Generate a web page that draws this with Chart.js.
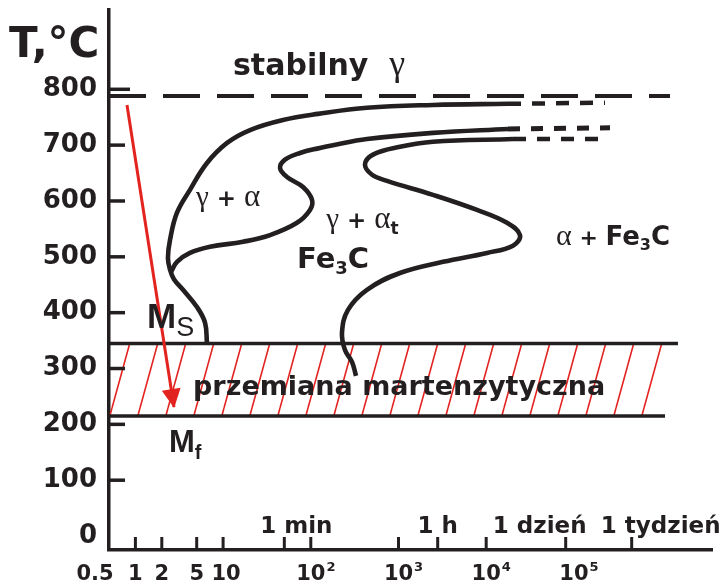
<!DOCTYPE html>
<html><head><meta charset="utf-8">
<script src="https://cdn.jsdelivr.net/npm/chart.js@4.4.1/dist/chart.umd.min.js"></script>
<style>html,body{margin:0;padding:0;background:#fff}canvas{display:block}</style>
</head><body>
<canvas id="c" width="728" height="587"></canvas>
<script>
// ---------- data (time in s, temperature in °C) ----------
const yTicks = [0, 100, 200, 300, 400, 500, 600, 700, 800];
const xNumTicks = [0.5, 1, 2, 5, 10, 100, 1000, 10000, 100000];
const xNumLabels = ['0.5', '1', '2', '5', '10', '10|2', '10|3', '10|4', '10|5'];
const xNumMarks = [1, 2, 5, 10, 100, 1000, 10000];
const timeTickSeconds = [49.9, 2799, 80640, 456100];
const timeTickLabels = ['1 min', '1 h', '1 dzień', '1 tydzień'];

const curveOuter = [[6.55,345],[6.22,382],[5.04,410],[3.49,441],[2.75,460],[2.48,477],[2.35,498],[2.48,530],[2.98,579],[4.19,620],[6.55,668],[11.1,704],[20.3,727],[48.2,745],[121,756],[437,767],[2474,772],[17730,774]];
const curveOuterDash = [[17730,774],[226200,776]];
const curveMiddle = [[2.55,473],[2.98,491],[4.19,507],[7.09,518],[16.9,527],[34.3,539],[69.6,561],[97.9,584],[103.2,602],[81.5,625],[53.5,643],[44.6,659],[50.8,674],[75.3,686],[127,695],[179,700],[437,711],[2474,722],[17730,729]];
const curveMiddleDash = [[17730,729],[258000,731]];
const curveInner = [[327.7,287],[294.9,312],[245.4,333],[226.8,364],[265.6,405],[437,441],[1040,471],[3217,491],[10210,507],[20210,520],[24290,539],[17270,561],[7857,584],[2474,611],[739.6,636],[499,647],[415,665],[512,683],[1040,697],[2474,706],[20210,711]];
const curveInnerDash = [[20210,711],[232300,711]];
const a1Line = [[0.5,788],[1.247e6,788]];
const msLine = [[0.5,345],[1.538e6,345]];
const mfLine = [[0.5,215],[1.094e6,215]];
const martensiteBand = [[0.5,345],[1.459e6,345],[8.41e5,215],[0.5,215],[0.5,345]];
const coolingPath = [[0.802,772],[2.754,231]];

// ---------- styles ----------
const ink = '#231f20';
const red = '#e3231f';
const SANS = 'DejaVu Sans';
const SERIF = 'Liberation Serif';
const ARIAL = 'Liberation Sans';

function makeHatch() {
  const W = 28, H = 102;
  const c = document.createElement('canvas');
  c.width = W; c.height = H;
  const g = c.getContext('2d');
  g.strokeStyle = red; g.lineWidth = 1.6;
  for (const k of [-1, 0, 1]) {
    g.beginPath(); g.moveTo(k * W, H); g.lineTo(k * W + W, 0); g.stroke();
  }
  return g.createPattern(c, 'repeat');
}

const pts = arr => arr.map(([x, y]) => ({x, y}));
const line = (arr, extra) => Object.assign({
  data: pts(arr), borderColor: ink, borderWidth: 4.6, pointRadius: 0,
  tension: 0.4, fill: false
}, extra || {});

// text labels: anchor in data coords (left, baseline)
const textLayout = [
  {x: 12.97, y: 826, runs: [{t: 'stabilny  ', f: `bold 30px ${SANS}`}, {t: 'γ', f: `36px ${SERIF}`}]},
  {x: 4.9, y: 591, runs: [{t: 'γ', f: `29px ${SERIF}`}, {t: ' + ', f: `bold 23px ${SANS}`}, {t: 'α', f: `31px ${SERIF}`}]},
  {x: 150, y: 552, runs: [{t: 'γ', f: `29px ${SERIF}`}, {t: ' + ', f: `bold 23px ${SANS}`}, {t: 'α', f: `31px ${SERIF}`}, {t: 't', f: `bold 17px ${SANS}`, dy: 6}]},
  {x: 69.6, y: 480, runs: [{t: 'Fe', f: `bold 29px ${SANS}`}, {t: '3', f: `bold 18px ${SANS}`, dy: 6}, {t: 'C', f: `bold 29px ${SANS}`}]},
  {x: 62520, y: 521, runs: [{t: 'α', f: `30px ${SERIF}`}, {t: ' + ', f: `bold 22px ${SANS}`}, {t: 'Fe', f: `bold 26px ${SANS}`}, {t: '3', f: `bold 16px ${SANS}`, dy: 5}, {t: 'C', f: `bold 26px ${SANS}`}]},
  {x: 1.356, y: 373, runs: [{t: 'M', f: `bold 35px ${ARIAL}`}, {t: 'S', f: `27px ${ARIAL}`, dy: 8}]},
  {x: 2.415, y: 150, runs: [{t: 'M', f: `bold 31px ${ARIAL}`}, {t: 'f', f: `bold 20px ${ARIAL}`, dy: 7}]},
  {x: 4.54, y: 253, runs: [{t: 'przemiana martenzytyczna', f: `bold 27px ${SANS}`}]}
];
const numDx = [-14, 0, 0, 0, 3, 0, 0, 0, 0];
const timeDx = [12, 0, -26, 29];

function drawRuns(ctx, x, y, runs) {
  let cx = x;
  for (const r of runs) {
    ctx.font = r.f;
    ctx.fillText(r.t, cx, y + (r.dy || 0));
    cx += ctx.measureText(r.t).width;
  }
}

const overlay = {
  id: 'overlay',
  afterDatasetsDraw(chart) {
    const {ctx, chartArea: a} = chart;
    const xs = chart.scales.x, ys = chart.scales.y;
    ctx.save();
    ctx.fillStyle = ink; ctx.strokeStyle = ink; ctx.lineCap = 'butt';
    // inner y tick marks
    ctx.lineWidth = 3.5;
    yTicks.forEach(v => {
      if (v === 0) return;
      const py = ys.getPixelForValue(v);
      ctx.beginPath(); ctx.moveTo(a.left, py); ctx.lineTo(a.left + (v === 800 ? 21 : 16), py); ctx.stroke();
    });
    // inner x tick marks
    ctx.lineWidth = 3;
    [...xNumMarks, ...timeTickSeconds].forEach(v => {
      const px = xs.getPixelForValue(v);
      ctx.beginPath(); ctx.moveTo(px, a.bottom - 1); ctx.lineTo(px, a.bottom - 13); ctx.stroke();
    });
    // x numeric labels
    ctx.textBaseline = 'alphabetic'; ctx.textAlign = 'left';
    xNumTicks.forEach((v, i) => {
      const [base, exp] = xNumLabels[i].split('|');
      ctx.font = `bold 21px ${SANS}`;
      const w = ctx.measureText(base).width;
      const px = xs.getPixelForValue(v) + numDx[i];
      ctx.fillText(base, px - w / 2, a.bottom + 30);
      if (exp) { ctx.font = `bold 13px ${SANS}`; ctx.fillText(exp, px + w / 2 + 1, a.bottom + 21); }
    });
    // time labels
    ctx.textAlign = 'center';
    ctx.font = `bold 23px ${SANS}`;
    timeTickSeconds.forEach((v, i) => {
      ctx.fillText(timeTickLabels[i], xs.getPixelForValue(v) + timeDx[i], a.bottom - 17);
    });
    // axis title
    ctx.textAlign = 'left';
    ctx.font = `bold 42px ${SANS}`;
    ctx.fillText('T,°C', 9, 57);
    // arrow head
    const meta = chart.getDatasetMeta(0);
    const p1 = meta.data[meta.data.length - 2], p2 = meta.data[meta.data.length - 1];
    const ang = Math.atan2(p2.y - p1.y, p2.x - p1.x);
    const L = 18, W = 9.5, c = Math.cos(ang), s = Math.sin(ang);
    ctx.fillStyle = red;
    ctx.beginPath();
    ctx.moveTo(p2.x + 1 * c, p2.y + 1 * s);
    ctx.lineTo(p2.x - L * c + W * s, p2.y - L * s - W * c);
    ctx.lineTo(p2.x - L * c - W * s, p2.y - L * s + W * c);
    ctx.closePath(); ctx.fill();
    // region labels
    ctx.fillStyle = ink; ctx.textAlign = 'left';
    textLayout.forEach(l => drawRuns(ctx, xs.getPixelForValue(l.x), ys.getPixelForValue(l.y), l.runs));
    ctx.restore();
  }
};

new Chart(document.getElementById('c'), {
  type: 'line',
  data: {
    datasets: [
      line(coolingPath, {borderColor: red, borderWidth: 3, tension: 0}),
      line(curveOuter),
      line(curveOuterDash, {borderDash: [13, 11], tension: 0, borderWidth: 4.5}),
      line(curveMiddle),
      line(curveMiddleDash, {borderDash: [12, 11], tension: 0, borderWidth: 5}),
      line(curveInner),
      line(curveInnerDash, {borderDash: [13, 11], tension: 0, borderWidth: 4.5}),
      line(a1Line, {borderDash: [37, 17], tension: 0, borderWidth: 4}),
      line(msLine, {borderWidth: 3.5, tension: 0}),
      line(mfLine, {borderWidth: 3.5, tension: 0}),
      line(martensiteBand, {borderWidth: 0, borderColor: 'rgba(0,0,0,0)', backgroundColor: makeHatch(), fill: 'shape', tension: 0})
    ]
  },
  options: {
    responsive: false, animation: false, devicePixelRatio: 1, events: [],
    layout: {padding: {left: 0, right: 16, top: 10, bottom: 0}},
    plugins: {legend: {display: false}, tooltip: {enabled: false}},
    scales: {
      x: {
        type: 'logarithmic', min: 0.5, max: 3.757e6,
        afterFit: s => { s.height = 37; s.paddingLeft = 0; s.paddingRight = 0; },
        ticks: {display: false},
        grid: {display: false, drawTicks: false},
        border: {display: true, color: ink, width: 3.5}
      },
      y: {
        type: 'linear', min: -25, max: 942,
        afterBuildTicks: s => { s.ticks = yTicks.map(v => ({value: v})); },
        afterFit: s => { s.width = 109; s.paddingTop = 0; s.paddingBottom = 0; },
        ticks: {color: ink, padding: 12, autoSkip: false, font: {family: SANS, weight: 'bold', size: 26}},
        grid: {display: false, drawTicks: false, tickLength: 0},
        border: {display: true, color: ink, width: 3.5}
      }
    }
  },
  plugins: [overlay]
});
</script>
</body></html>
